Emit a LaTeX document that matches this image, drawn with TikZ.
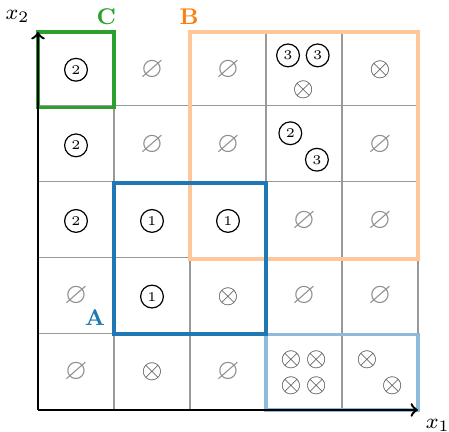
\documentclass[tikz,border=0pt]{standalone}
\usepackage{amssymb}
\definecolor{tabblue}{HTML}{1F77B4}
\definecolor{tabgreen}{HTML}{2CA02C}
\definecolor{taborange}{HTML}{FF7F0E}
\definecolor{lightorange}{HTML}{FFC799}
\definecolor{lightblue}{HTML}{8FBBDA}
\tikzset{
  gridline/.style={draw=black!40, line width=0.4pt},
  boxA/.style={draw=tabblue, line width=1.5pt},
  boxB/.style={draw=lightorange, line width=1.4pt},
  boxC/.style={draw=tabgreen, line width=1.3pt},
  boxLB/.style={draw=lightblue, line width=1.3pt},
  axisline/.style={draw=black, line width=0.9pt, ->},
  cnum/.style={circle, draw=black, line width=0.45pt, inner sep=0pt, minimum size=0.3cm, font=\fontsize{5}{6}\selectfont},
  emp/.style={text=black!45, inner sep=0pt, font=\fontsize{11}{12}\selectfont},
  ot/.style={text=black!75, inner sep=0pt, font=\fontsize{9.6}{10}\selectfont},
  lab/.style={font=\fontsize{8.5}{10}\selectfont\bfseries},
  axlab/.style={font=\fontsize{8.5}{10}\selectfont}
}
\begin{document}
\begin{tikzpicture}[y=0.9947cm]
\useasboundingbox (-0.5,-0.291) rectangle (5.408,5.423);
\draw[gridline] (0,0) grid (5,5);
\draw[boxB] (2,2) rectangle (5,5);
\draw[boxLB] (3,0) rectangle (5,1);
\draw[boxA] (1,1) rectangle (3,3);
\draw[boxC] (0,4) rectangle (1,5);
\coordinate (O) at (0,0);
\coordinate (X) at (5,0);
\coordinate (Y) at (0,5);
\draw[axisline] (O) -- (X);
\draw[axisline] (O) -- (Y);
\node[axlab] (x1) at (5.26,-0.2) {$x_1$};
\node[axlab] (x2) at (-0.27,5.2) {$x_2$};
\node[lab, text=tabgreen] (labC) at (0.9,5.2) {C};
\node[lab, text=taborange] (labB) at (1.99,5.2) {B};
\node[lab, text=tabblue] (labA) at (0.75,1.22) {A};
% row 4
\node[cnum] (c04) at (0.5,4.5) {2};
\node[emp] (c14) at (1.5,4.5) {$\varnothing$};
\node[emp] (c24) at (2.5,4.5) {$\varnothing$};
\node[cnum] (c34a) at (3.29,4.69) {3};
\node[cnum] (c34b) at (3.68,4.69) {3};
\node[ot] (c34c) at (3.49,4.24) {$\otimes$};
\node[ot] (c44) at (4.5,4.5) {$\otimes$};
% row 3
\node[cnum] (c03) at (0.5,3.5) {2};
\node[emp] (c13) at (1.5,3.5) {$\varnothing$};
\node[emp] (c23) at (2.5,3.5) {$\varnothing$};
\node[cnum] (c33a) at (3.32,3.66) {2};
\node[cnum] (c33b) at (3.67,3.31) {3};
\node[emp] (c43) at (4.5,3.5) {$\varnothing$};
% row 2
\node[cnum] (c02) at (0.5,2.5) {2};
\node[cnum] (c12) at (1.5,2.5) {1};
\node[cnum] (c22) at (2.5,2.5) {1};
\node[emp] (c32) at (3.5,2.5) {$\varnothing$};
\node[emp] (c42) at (4.5,2.5) {$\varnothing$};
% row 1
\node[emp] (c01) at (0.5,1.5) {$\varnothing$};
\node[cnum] (c11) at (1.5,1.5) {1};
\node[ot] (c21) at (2.5,1.5) {$\otimes$};
\node[emp] (c31) at (3.5,1.5) {$\varnothing$};
\node[emp] (c41) at (4.5,1.5) {$\varnothing$};
% row 0
\node[emp] (c00) at (0.5,0.5) {$\varnothing$};
\node[ot] (c10) at (1.5,0.5) {$\otimes$};
\node[emp] (c20) at (2.5,0.5) {$\varnothing$};
\node[ot] (c30a) at (3.33,0.66) {$\otimes$};
\node[ot] (c30b) at (3.66,0.66) {$\otimes$};
\node[ot] (c30c) at (3.33,0.32) {$\otimes$};
\node[ot] (c30d) at (3.66,0.32) {$\otimes$};
\node[ot] (c40a) at (4.33,0.66) {$\otimes$};
\node[ot] (c40b) at (4.66,0.32) {$\otimes$};
\end{tikzpicture}
\end{document}
